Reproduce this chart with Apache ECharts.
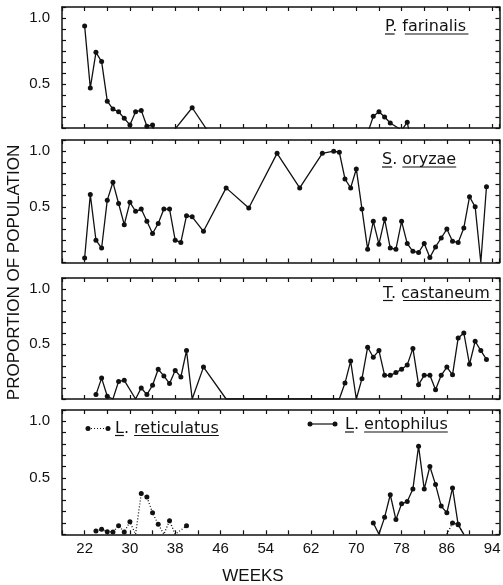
<!DOCTYPE html>
<html>
<head>
<meta charset="utf-8">
<script src="https://cdn.jsdelivr.net/npm/echarts@6/dist/echarts.min.js"></script>
<style>
  html, body { margin: 0; padding: 0; background: #fff; }
  #chart { width: 503px; height: 585px; }
</style>
</head>
<body>
<div id="chart"></div>
<script>
// Proportion of the population made up by each species, by week of storage.
// A value of 0 means the species was absent; null breaks the line.
const farinalisWeeks  = [22, 23, 24, 25, 26, 27, 28, 29, 30, 31, 32, 33, 34, 35, 41, 46, 71, 73, 74, 75, 76, 78, 79, 80];
const farinalisValues = [0.94, 0.47, 0.74, 0.67, 0.37, 0.31, 0.29, 0.24, 0.19, 0.29, 0.30, 0.18, 0.19, 0, 0.32, 0, 0, 0.255, 0.29, 0.25, 0.205, 0.15, 0.21, 0];

const oryzaeWeeks  = [22, 23, 24, 25, 26, 27, 28, 29, 30, 31, 32, 33, 34, 35, 36, 37, 38, 39, 40, 41, 43, 47, 51, 56, 60, 64, 66, 67, 68, 69, 70, 71, 72, 73, 74, 75, 76, 77, 78, 79, 80, 81, 82, 83, 84, 85, 86, 87, 88, 89, 90, 91, 92, 93];
const oryzaeValues = [0.04, 0.61, 0.20, 0.13, 0.56, 0.72, 0.53, 0.34, 0.54, 0.46, 0.48, 0.37, 0.26, 0.35, 0.48, 0.48, 0.20, 0.18, 0.42, 0.41, 0.28, 0.67, 0.49, 0.98, 0.67, 0.98, 1.0, 0.99, 0.75, 0.67, 0.84, 0.48, 0.12, 0.37, 0.165, 0.39, 0.13, 0.12, 0.37, 0.17, 0.10, 0.09, 0.17, 0.045, 0.14, 0.22, 0.30, 0.19, 0.18, 0.31, 0.59, 0.50, 0, 0.68];

const castaneumWeeks  = [24, 25, 26, 27, 28, 29, 31, 32, 33, 34, 35, 36, 37, 38, 39, 40, 41, 43, 47, 67, 68, 69, 70, 71, 72, 73, 74, 75, 76, 77, 78, 79, 80, 81, 82, 83, 84, 85, 86, 87, 88, 89, 90, 91, 92, 93];
const castaneumValues = [0.04, 0.19, 0.025, 0, 0.16, 0.17, 0, 0.10, 0.04, 0.125, 0.27, 0.21, 0.14, 0.26, 0.20, 0.44, 0, 0.29, 0, 0, 0.145, 0.345, 0, 0.185, 0.47, 0.38, 0.44, 0.215, 0.215, 0.24, 0.27, 0.31, 0.46, 0.13, 0.215, 0.215, 0.085, 0.215, 0.29, 0.22, 0.555, 0.60, 0.315, 0.525, 0.44, 0.36];

const reticulatusWeeks  = [24, 25, 26, 27, 28, 29, 30, 31, 32, 33, 34, 35, 36, 37, 38, 40, 41, 86, 87, 88, 89];
const reticulatusValues = [0.03, 0.045, 0.023, 0.02, 0.075, 0.02, 0.11, 0, 0.36, 0.33, 0.19, 0.09, 0, 0.12, 0, 0.075, null, 0, 0.10, 0.09, 0];

const entophilusWeeks  = [73, 74, 75, 76, 77, 78, 79, 80, 81, 82, 83, 84, 85, 86, 87, 88, 89];
const entophilusValues = [0.10, 0, 0.15, 0.35, 0.13, 0.27, 0.29, 0.40, 0.78, 0.40, 0.60, 0.44, 0.25, 0.19, 0.41, 0.084, 0];

const weekTickLabels = [22, 30, 38, 46, 54, 62, 70, 78, 86, 94];
const proportionTickLabels = [0.5, 1.0];

const INK = '#111';
const TICK_FONT = '"Liberation Sans", Arial, sans-serif';
const NAME_FONT = '16px "DejaVu Sans", sans-serif';

// Four stacked panels sharing the week axis; the first panel uses a 1/12 step scale.
const panels = [
  { top: 7,   height: 121,   min: 1 / 6, max: 13 / 12, step: 1 / 12 },
  { top: 140, height: 122.5, min: 0,     max: 1.1,     step: 0.1 },
  { top: 278, height: 121,   min: 0,     max: 1.1,     step: 0.1 },
  { top: 410, height: 124.3, min: 0,     max: 1.1,     step: 0.1 }
];

const near = (a, b) => Math.abs(a - b) < 1e-6;

const grid = [], xAxis = [], yAxis = [];
panels.forEach((p, i) => {
  const isLast = i === panels.length - 1;
  grid.push({ left: 62, width: 437.5, top: p.top, height: p.height, outerBoundsMode: 'none' });

  const frameLine = { show: true, onZero: false, lineStyle: { color: INK, width: 1.5 } };
  const inTick = { show: true, inside: true, length: 4, lineStyle: { color: INK, width: 1.2 } };

  const xBase = {
    gridIndex: i, type: 'value', min: 18, max: 95.3, interval: 4,
    axisLine: frameLine, axisTick: inTick, splitLine: { show: false }
  };
  xAxis.push(Object.assign({}, xBase, {
    position: 'bottom',
    axisLabel: {
      show: isLast, margin: 7, color: INK, fontSize: 15, fontFamily: TICK_FONT,
      formatter: v => {
        const r = Math.round(v);
        return near(v, r) && weekTickLabels.includes(r) ? String(r) : '';
      }
    }
  }));
  xAxis.push(Object.assign({}, xBase, { position: 'top', axisLabel: { show: false } }));

  const yBase = {
    gridIndex: i, type: 'value', min: p.min, max: p.max, interval: p.step,
    axisLine: frameLine, axisTick: inTick, splitLine: { show: false }
  };
  yAxis.push(Object.assign({}, yBase, {
    position: 'left',
    axisLabel: {
      margin: 12, color: INK, fontSize: 15, fontFamily: TICK_FONT, padding: [7, 0, 0, 0],
      formatter: v => {
        const hit = proportionTickLabels.find(t => near(v, t));
        return hit === undefined ? '' : hit.toFixed(1);
      }
    }
  }));
  yAxis.push(Object.assign({}, yBase, { position: 'right', axisLabel: { show: false } }));
});

function pairs(weeks, values) {
  return weeks.map((w, k) => [w, values[k] == null ? '-' : values[k]]);
}

function speciesLine(name, panel, weeks, values, lineType) {
  return {
    name, type: 'line', xAxisIndex: 2 * panel, yAxisIndex: 2 * panel,
    data: pairs(weeks, values),
    symbol: 'circle',
    symbolSize: d => (d[1] > 0 ? 5 : 0),
    itemStyle: { color: INK },
    lineStyle: { color: INK, width: 1.3, type: lineType },
    clip: true, connectNulls: false, animation: false, z: 3
  };
}

const series = [
  speciesLine('P. farinalis', 0, farinalisWeeks, farinalisValues, 'solid'),
  speciesLine('S. oryzae', 1, oryzaeWeeks, oryzaeValues, 'solid'),
  speciesLine('T. castaneum', 2, castaneumWeeks, castaneumValues, 'solid'),
  speciesLine('L. reticulatus', 3, reticulatusWeeks, reticulatusValues, [1, 2]),
  speciesLine('L. entophilus', 3, entophilusWeeks, entophilusValues, 'solid')
];

// Species names: genus initial and epithet underlined separately.
const measureCtx = document.createElement('canvas').getContext('2d');
function textWidth(s) { measureCtx.font = NAME_FONT; return measureCtx.measureText(s).width; }

function speciesName(initial, epithet, left, midY) {
  const wInit = textWidth(initial);
  const wGap = textWidth('. ');
  const wEpi = textWidth(epithet);
  const uy = midY + 7;
  const rule = { stroke: INK, lineWidth: 1.2 };
  return [
    { type: 'text', x: left, y: midY, style: { text: initial + '. ' + epithet, font: NAME_FONT, fill: INK, verticalAlign: 'middle' } },
    { type: 'line', shape: { x1: left, y1: uy, x2: left + wInit, y2: uy }, style: rule },
    { type: 'line', shape: { x1: left + wInit + wGap, y1: uy, x2: left + wInit + wGap + wEpi, y2: uy }, style: rule }
  ];
}

function legendKey(x1, x2, y, dash) {
  return [
    { type: 'line', shape: { x1, y1: y, x2, y2: y }, style: { stroke: INK, lineWidth: 1.2, lineDash: dash } },
    { type: 'circle', shape: { cx: x1, cy: y, r: 2.5 }, style: { fill: INK } },
    { type: 'circle', shape: { cx: x2, cy: y, r: 2.5 }, style: { fill: INK } }
  ];
}

const graphic = [].concat(
  speciesName('P', 'farinalis', 385, 27),
  speciesName('S', 'oryzae', 382, 160),
  speciesName('T', 'castaneum', 383, 293.5),
  legendKey(88, 108, 428.5, [1, 2]),
  speciesName('L', 'reticulatus', 115, 428.5),
  legendKey(310, 335, 424, null),
  speciesName('L', 'entophilus', 345, 425),
  [
    { type: 'text', x: 14.5, y: 272.5, rotation: Math.PI / 2,
      style: { text: 'PROPORTION OF POPULATION', font: '17px ' + TICK_FONT, fill: INK, align: 'center', verticalAlign: 'middle' } },
    { type: 'text', x: 253, y: 576,
      style: { text: 'WEEKS', font: '17px ' + TICK_FONT, fill: INK, align: 'center', verticalAlign: 'middle' } }
  ]
);

const chart = echarts.init(document.getElementById('chart'), null, { renderer: 'canvas' });
chart.setOption({
  backgroundColor: '#fff',
  animation: false,
  grid, xAxis, yAxis, series, graphic
});
</script>
</body>
</html>
